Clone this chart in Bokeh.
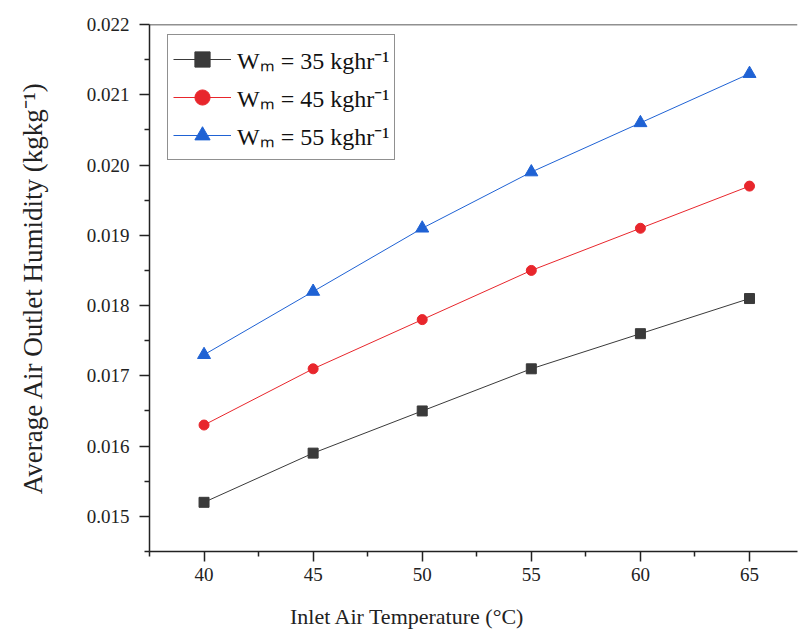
from bokeh.plotting import figure
from bokeh.models import Legend, LegendItem, Span, PrintfTickFormatter, FixedTicker, Range1d
from bokeh.embed import file_html
from bokeh.resources import INLINE

temps = [40, 45, 50, 55, 60, 65]
w35 = [0.0152, 0.0159, 0.0165, 0.0171, 0.0176, 0.0181]
w45 = [0.0163, 0.0171, 0.0178, 0.0185, 0.0191, 0.0197]
w55 = [0.0173, 0.0182, 0.0191, 0.0199, 0.0206, 0.0213]
labels = ["Wₘ = 35 kghr⁻¹", "Wₘ = 45 kghr⁻¹", "Wₘ = 55 kghr⁻¹"]
x_ticks = [40, 45, 50, 55, 60, 65]
y_ticks = [0.015, 0.016, 0.017, 0.018, 0.019, 0.020, 0.021, 0.022]

FONT = "Liberation Serif"

p = figure(width=798, height=635, frame_width=648, frame_height=527,
           output_backend="svg", toolbar_location=None,
           x_range=Range1d(37.5, 67.2), y_range=Range1d(0.0145, 0.022),
           min_border_left=149, min_border_top=24, min_border_right=1, min_border_bottom=80)
p.outline_line_color = None
p.grid.visible = False
p.background_fill_color = "white"
p.border_fill_color = "white"

p.add_layout(Span(location=0.022, dimension="width", line_color="#222222", line_width=1.5))

for ax in (p.xaxis[0], p.yaxis[0]):
    ax.axis_line_color = "#222222"
    ax.axis_line_width = 1.5
    ax.major_tick_line_color = "#222222"
    ax.minor_tick_line_color = "#222222"
    ax.major_tick_line_width = 1.5
    ax.minor_tick_line_width = 1.5
    ax.major_tick_in = 0
    ax.minor_tick_in = 0
    ax.major_tick_out = 10
    ax.minor_tick_out = 5
    ax.major_label_text_font = FONT
    ax.major_label_text_font_size = "19px"
    ax.major_label_text_color = "#222222"
    ax.axis_label_text_font = FONT
    ax.axis_label_text_font_style = "normal"
    ax.axis_label_text_color = "#222222"

p.xaxis.axis_label_text_font_size = "22px"
p.yaxis.axis_label_text_font_size = "27px"
p.xaxis.ticker = FixedTicker(ticks=x_ticks, minor_ticks=[37.5, 42.5, 47.5, 52.5, 57.5, 62.5, 67.5])
p.yaxis.ticker = FixedTicker(ticks=y_ticks, minor_ticks=[0.0145, 0.0155, 0.0165, 0.0175, 0.0185, 0.0195, 0.0205, 0.0215])
p.yaxis.formatter = PrintfTickFormatter(format="%.3f")
p.xaxis.axis_label = "Inlet Air Temperature (°C)" + "\u00a0" * 24
p.yaxis.axis_label = "Average Air Outlet Humidity (kgkg⁻¹)"
p.xaxis.major_label_standoff = 6
p.xaxis.axis_label_standoff = 20
p.yaxis.major_label_standoff = 10
p.yaxis.axis_label_standoff = 36

c1, c2, c3 = "#3a3a3a", "#e8262c", "#1f62d4"
l1 = p.line(temps, w35, line_color=c1, line_width=1)
m1 = p.scatter(temps, w35, marker="square", size=10, color=c1)
l2 = p.line(temps, w45, line_color=c2, line_width=1)
m2 = p.scatter(temps, w45, marker="circle", size=10, color=c2)
l3 = p.line(temps, w55, line_color=c3, line_width=1)
m3 = p.scatter(temps, w55, marker="triangle", size=13, color=c3)

legend = Legend(items=[
    LegendItem(label=labels[0], renderers=[l1, m1]),
    LegendItem(label=labels[1], renderers=[l2, m2]),
    LegendItem(label=labels[2], renderers=[l3, m3]),
], location=(18, 391))
legend.margin = 0
legend.padding = 5
legend.spacing = 0
legend.label_text_font = FONT
legend.label_text_font_size = "24px"
legend.label_text_color = "#111111"
legend.label_height = 38
legend.glyph_height = 38
legend.glyph_width = 58
legend.label_standoff = 6
legend.border_line_color = "#222222"
legend.border_line_width = 1.5
legend.background_fill_alpha = 1
p.add_layout(legend)

open("out.html", "w").write(file_html(p, INLINE))
